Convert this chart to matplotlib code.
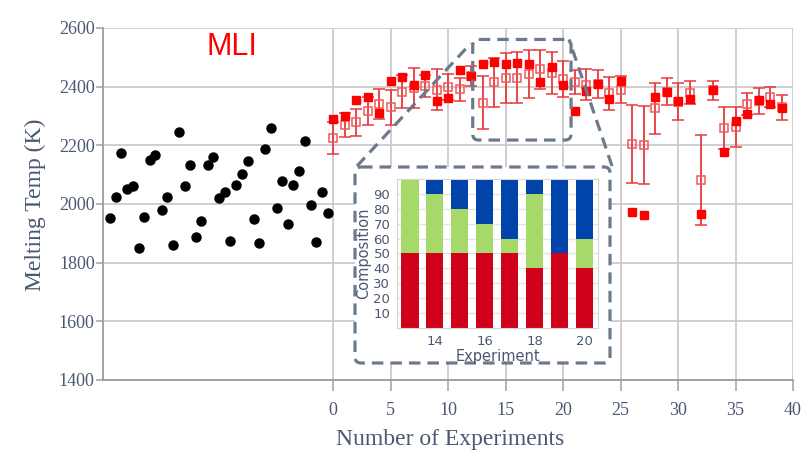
import matplotlib

matplotlib.use("Agg")
import matplotlib.pyplot as plt
from matplotlib.patches import FancyBboxPatch

# earlier (random) experiments, plotted left of zero
prev_x = [-19.4, -18.9, -18.4, -17.9, -17.4, -16.9, -16.4, -15.9, -15.45, -14.9,
          -14.4, -13.9, -13.4, -12.9, -12.4, -11.9, -11.45, -10.9, -10.4, -9.9,
          -9.4, -8.95, -8.4, -7.9, -7.4, -6.9, -6.4, -5.9, -5.4, -4.9,
          -4.4, -3.9, -3.45, -2.95, -2.45, -1.95, -1.45, -0.95, -0.45]
prev_y = [1951, 2023, 2175, 2050, 2062, 1849, 1957, 2150, 2166, 1979,
          2023, 1860, 2247, 2061, 2132, 1887, 1942, 2132, 2159, 2022,
          2040, 1873, 2065, 2103, 2148, 1948, 1867, 2189, 2260, 1987,
          2078, 1931, 2065, 2114, 2215, 1997, 1869, 2041, 1968]

# MLI-guided experiments
exp = list(range(40))
measured = [2290, 2300, 2353, 2364, 2311, 2418, 2432, 2407, 2441, 2351,
            2363, 2457, 2437, 2476, 2484, 2477, 2482, 2476, 2416, 2468,
            2404, 2317, 2384, 2409, 2357, 2420, 1973, 1964, 2366, 2382,
            2350, 2359, 1966, 2389, 2178, 2283, 2307, 2353, 2340, 2328]
predicted = [2224, 2269, 2278, 2318, 2341, 2329, 2383, 2395, 2402, 2389,
             2398, 2391, 2437, 2346, 2415, 2431, 2431, 2443, 2459, 2446,
             2427, 2415, 2406, 2408, 2377, 2389, 2204, 2200, 2326, 2382,
             2349, 2380, 2082, 2387, 2258, 2262, 2341, 2350, 2364, 2329]
pred_err = [54, 41, 46, 48, 50, 60, 56, 68, 38, 70,
            44, 40, 35, 92, 84, 85, 86, 82, 66, 72,
            62, 41, 53, 48, 56, 46, 133, 133, 86, 46,
            62, 40, 153, 32, 72, 68, 39, 44, 34, 43]

x_ticks = [0, 5, 10, 15, 20, 25, 30, 35, 40]
y_ticks = [1400, 1600, 1800, 2000, 2200, 2400, 2600]

# zoomed region and inset composition
zoom_x = (12.15, 20.7)
zoom_y = (2218, 2561)
inset_exp = [13, 14, 15, 16, 17, 18, 19, 20]
comp_red = [50, 50, 50, 50, 50, 40, 50, 40]
comp_green = [50, 40, 30, 20, 10, 50, 0, 20]
comp_blue = [0, 10, 20, 30, 40, 10, 50, 40]

W, H = 810, 454
SLATE = "#4a5872"
GRID = "#cbcbcb"
DASH = "#6b7a8d"
SERIF = ["Liberation Serif", "DejaVu Serif"]

fig = plt.figure(figsize=(W / 100, H / 100), dpi=100)

ax = fig.add_axes([103 / W, 1 - 380 / H, 690 / W, 352 / H], zorder=0)
ax.set_xlim(-20, 40)
ax.set_ylim(1400, 2600)
ax.set_xticks(x_ticks)
ax.set_yticks(y_ticks)
ax.grid(True, color=GRID, linewidth=1.3)
ax.set_axisbelow(True)
for side in ("top", "right"):
    ax.spines[side].set_visible(False)
for side in ("left", "bottom"):
    ax.spines[side].set_color("#9c9c9c")
    ax.spines[side].set_linewidth(1.3)
ax.tick_params(axis="x", length=8, width=1.2, color="#a8a8a8", pad=8,
               labelsize=13, labelcolor=SLATE)
ax.tick_params(axis="y", length=5, width=1.2, color="#a8a8a8", pad=1,
               labelsize=13, labelcolor=SLATE)
for lab in ax.get_xticklabels() + ax.get_yticklabels():
    lab.set_family(SERIF)

ax.plot(prev_x, prev_y, "o", color="black", ms=6.5, zorder=3)
ax.errorbar(exp, predicted, yerr=pred_err, fmt="s", ms=6, mfc="none",
            mec="#f05a5a", mew=1.1, ecolor="#e8383d", elinewidth=1.3,
            capsize=4, capthick=1.2, zorder=3)
ax.plot(exp, measured, "s", color="#ff0000", ms=6, zorder=4)

ax.text(0.187, 0.946, "MLI", transform=ax.transAxes, color="#ff0000",
        fontsize=22, family="Liberation Sans", ha="center", va="center")

fig.text(35 / W, 1 - 205 / H, "Melting Temp (K)", rotation=90, ha="center",
         va="center", fontsize=17, color=SLATE, family=SERIF)
fig.text(450 / W, 1 - 440 / H, "Number of Experiments", ha="center",
         va="center", fontsize=17, color=SLATE, family=SERIF)

# overlay in pixel units for the zoom box, inset frame and connectors
ov = fig.add_axes([0, 0, 1, 1], zorder=1)
ov.set_xlim(0, W)
ov.set_ylim(H, 0)
ov.axis("off")


def to_px(x, y):
    dx, dy = ax.transData.transform((x, y))
    return dx, H - dy


zx0, zy0 = to_px(zoom_x[0], zoom_y[1])
zx1, zy1 = to_px(zoom_x[1], zoom_y[0])
dash = (0, (3.6, 2.2))
ov.add_patch(FancyBboxPatch((zx0, zy0), zx1 - zx0, zy1 - zy0,
                            boxstyle="round,pad=0,rounding_size=6",
                            fill=False, ec=DASH, lw=2.3, linestyle=dash))

bx0, by0, bx1, by1 = 355, 167, 610, 363
ov.add_patch(FancyBboxPatch((bx0, by0), bx1 - bx0, by1 - by0,
                            boxstyle="round,pad=0,rounding_size=6",
                            fc="white", ec=DASH, lw=2.3, linestyle=dash))
ov.plot([bx0 + 2, zx0 - 2], [by0 - 1, zy0 + 4], color=DASH, lw=2.3,
        linestyle=dash)
ov.plot([bx1 + 2, zx1 - 2], [by0 - 1, zy0 + 0], color=DASH, lw=2.3,
        linestyle=dash)

# inset bar chart
ins = fig.add_axes([397.3 / W, 1 - 327.7 / H, 201 / W, 148.4 / H], zorder=2)
ins.bar(inset_exp, comp_red, width=0.7, color="#d0021b")
ins.bar(inset_exp, comp_green, width=0.7, bottom=comp_red, color="#a6d96a")
bottom_blue = [r + g for r, g in zip(comp_red, comp_green)]
ins.bar(inset_exp, comp_blue, width=0.7, bottom=bottom_blue, color="#0044aa")
ins.set_xlim(12.5, 20.55)
ins.set_ylim(0, 100)
ins.set_xticks([14, 16, 18, 20])
ins.set_yticks([10, 20, 30, 40, 50, 60, 70, 80, 90])
ins.yaxis.grid(True, color="#e4e4e4", linewidth=1)
ins.set_axisbelow(True)
for sp in ins.spines.values():
    sp.set_color("#d4d4d4")
ins.tick_params(length=0, labelsize=9.5, labelcolor=SLATE, pad=5)
ins.set_xlabel("Experiment", fontsize=10.5, color=SLATE, labelpad=1)
ins.set_ylabel("Composition", fontsize=10.5, color=SLATE, labelpad=2)

fig.savefig("out.png", dpi=100)
